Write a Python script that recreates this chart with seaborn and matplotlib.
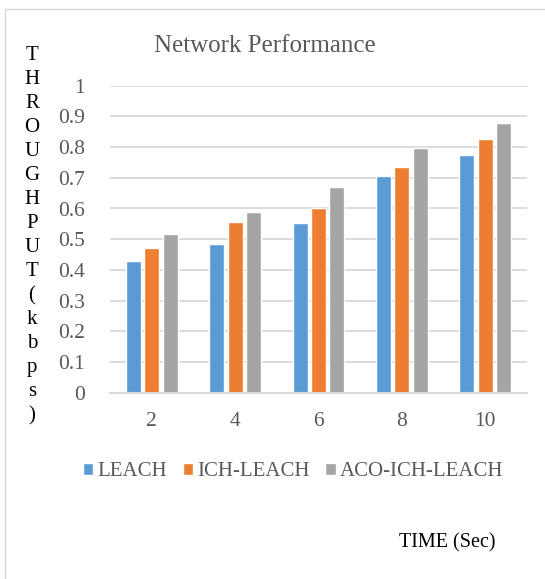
"""
plot.py

Network throughput bar chart (LEACH variants).
"""

import pandas as pd
import matplotlib.pyplot as plt
from matplotlib.lines import Line2D
from matplotlib.ticker import FuncFormatter
import seaborn as sns

#=======================================================================
#  Data
#=======================================================================

times = ['2','4','6','8','10']
series = ['LEACH','ICH-LEACH','ACO-ICH-LEACH']

leach     = [0.430, 0.485, 0.552, 0.706, 0.775]
ich_leach = [0.471, 0.556, 0.603, 0.735, 0.825]
aco_ich   = [0.518, 0.589, 0.670, 0.798, 0.879]

colors = ['#5B9BD5','#ED7D31','#A5A5A5']

ylab_letters = list('THROUGHPUT(kbps)')

#
#  Long table for seaborn
#

df = pd.DataFrame({
    'time': times*3,
    'series': [s for s in series for _ in times],
    'value': leach + ich_leach + aco_ich,
    })

#=======================================================================
#  Draw the chart
#=======================================================================

sns.set_style('white')
plt.rcParams['font.family'] = ['Liberation Serif','DejaVu Serif']

W,H = 545,579
fig = plt.figure(figsize=(W/100,H/100),dpi=100)
ax = fig.add_axes([110/W, 1-392.7/H, 417/W, 307/H])

sns.barplot(data=df,x='time',y='value',hue='series',order=times,
            hue_order=series,palette=colors,width=0.66,gap=0.18,
            saturation=1,ax=ax,legend=True)

ax.set_ylim(0,1)
ax.set_yticks([i/10 for i in range(11)])
ax.yaxis.set_major_formatter(FuncFormatter(lambda v,p: f'{v:g}'))
ax.yaxis.grid(True,color='#D9D9D9',lw=1.3)
ax.set_axisbelow(True)

for s in ['top','right','left']:
    ax.spines[s].set_visible(False)
ax.spines['bottom'].set_color('#D9D9D9')
ax.spines['bottom'].set_linewidth(1.5)

ax.tick_params(axis='both',length=0,labelsize=15.5,labelcolor='#595959')
ax.tick_params(axis='x',pad=14)
ax.tick_params(axis='y',pad=18)
ax.set_xlabel('')
ax.set_ylabel('')

#
#  Legend below the plot
#

handles,labels = ax.get_legend_handles_labels()
ax.get_legend().remove()
fig.legend(handles,labels,loc='center',bbox_to_anchor=(293/W,1-472/H),
           ncol=3,frameon=False,fontsize=15,labelcolor='#595959',
           handlelength=0.5,handleheight=0.5,handletextpad=0.2,
           columnspacing=0.75)

#
#  Title and axis labels
#

fig.text(265/W,1-46/H,'Network Performance',ha='center',va='center',
         fontsize=18,color='#595959')

for i,ch in enumerate(ylab_letters):
    fig.text(32/W,1-(55+i*24.07)/H,ch,ha='center',va='center',
             fontsize=15,color='black')

fig.text(447/W,1-543/H,'TIME (Sec)',ha='center',va='center',
         fontsize=14.5,color='black')

#
#  Chart area border (top and left visible)
#

fig.add_artist(Line2D([5/W,1],[1-9/H,1-9/H],color='#D9D9D9',lw=1))
fig.add_artist(Line2D([5/W,5/W],[0,1-9/H],color='#D9D9D9',lw=1))

fig.savefig('out.png',dpi=100)
